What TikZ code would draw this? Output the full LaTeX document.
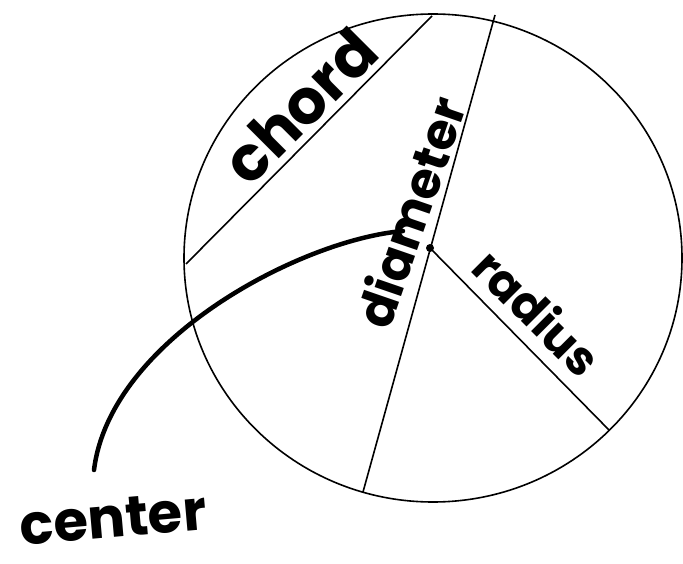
\documentclass[tikz,border=0pt]{standalone}
\usepackage{fontspec}
\setmainfont{Poppins}
\begin{document}
\begin{tikzpicture}[x=1pt,y=-1pt,
  thin line/.style={line width=1.6pt, black},
  hand/.style={font=\fontsize{#1}{#1}\selectfont\bfseries, inner sep=0pt, text=black},
  pointer/.style={line width=4.5pt, line cap=round}]
\useasboundingbox (0,0) rectangle (683,564);
\fill[white] (0,0) rectangle (683,564);
% circle
\coordinate (O) at (433,258);
\draw[thin line] (O) ellipse [x radius=249pt, y radius=244pt];
% points
\coordinate (chA) at (186,264);
\coordinate (chB) at (432,16);
\coordinate (dA) at (495,15);
\coordinate (dB) at (363,492);
\coordinate (rB) at (609,430);
\node[circle, fill=black, inner sep=0pt, minimum size=8pt] (ctr) at (430,248) {};
% lines
\draw[thin line] (chA) -- (chB);
\draw[thin line] (dA) -- (dB);
\draw[thin line] (ctr.center) -- (rB);
% labels
\node[hand=62, rotate=45] (lchord) at (300,106) {chord};
\node[hand=50, rotate=71] (ldiam) at (410,212) {diameter};
\node[hand=47, rotate=-45] (lrad) at (538,312) {radius};
\node[hand=56, rotate=5] (lcen) at (113,518) {center};
% pointer curve
\coordinate (pS) at (403,231);
\coordinate (pE) at (94,470);
\draw[pointer] (pS) .. controls (300,240) and (110,340) .. (pE);
\end{tikzpicture}
\end{document}
